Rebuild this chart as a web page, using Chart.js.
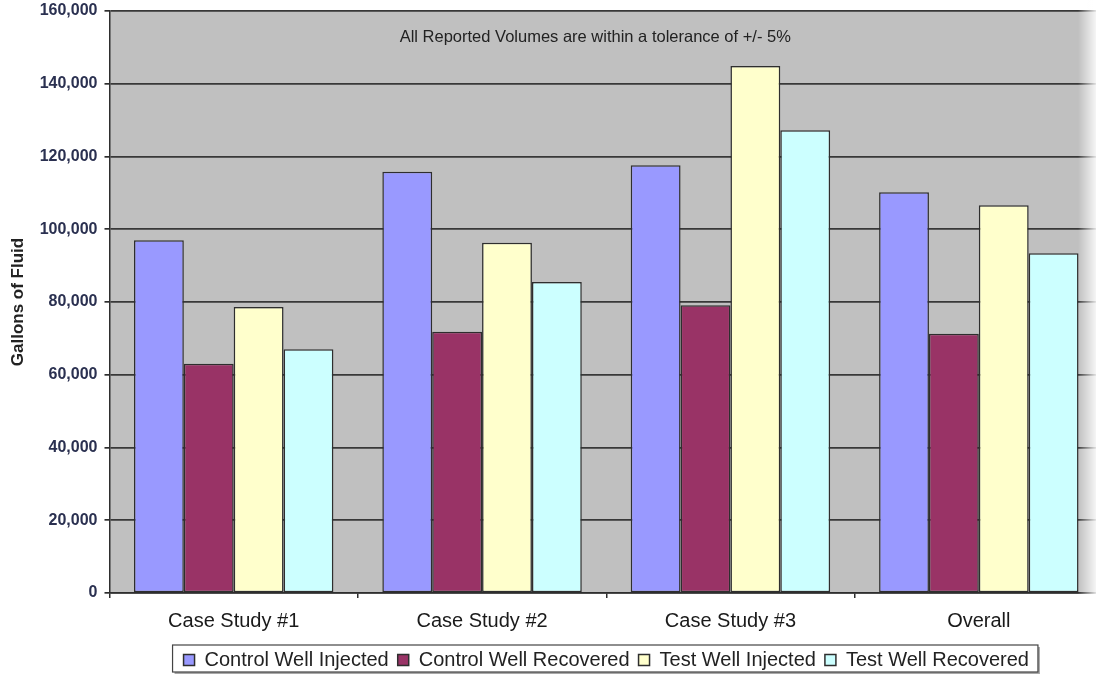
<!DOCTYPE html>
<html>
<head>
<meta charset="utf-8">
<title>Gallons of Fluid</title>
<script src="https://cdn.jsdelivr.net/npm/chart.js@4/dist/chart.umd.min.js"></script>
<style>
  html, body { margin: 0; padding: 0; background: #ffffff; overflow: hidden; }
  #wrap { position: relative; width: 1096px; height: 675px; overflow: hidden; }
  canvas { display: block; }
</style>
</head>
<body>
<div id="wrap"><canvas id="chart" width="1106" height="690"></canvas></div>
<script>
// Volumes in gallons per study
const categories = ['Case Study #1', 'Case Study #2', 'Case Study #3', 'Overall'];
const controlWellInjected  = [97000, 115800, 117600, 110200];
const controlWellRecovered = [63000, 71800, 79100, 71300];
const testWellInjected     = [78600, 96300, 144900, 106600];
const testWellRecovered    = [67000, 85500, 127200, 93400];
const yMin = 0, yMax = 160000, yStep = 20000;
const note = 'All Reported Volumes are within a tolerance of +/- 5%';

const FONT = 'Arial, "Liberation Sans", sans-serif';
const EDGE = '#2e2e2e';

// Grey plot background, note text, framed legend and soft right edge
const decorations = {
  id: 'decorations',
  beforeDraw(chart) {
    const { ctx, chartArea: a } = chart;
    ctx.save();
    ctx.fillStyle = '#c0c0c0';
    ctx.fillRect(a.left, a.top, a.right - a.left, a.bottom - a.top);
    ctx.restore();
  },
  beforeDatasetsDraw(chart) {
    const { ctx, chartArea: a } = chart;
    ctx.save();
    ctx.font = '16.5px ' + FONT;
    ctx.fillStyle = '#222';
    ctx.textAlign = 'center';
    ctx.textBaseline = 'middle';
    ctx.fillText(note, (a.left + a.right) / 2 - 11, a.top + 26);
    ctx.restore();
  },
  afterDraw(chart) {
    const { ctx } = chart;
    const hb = chart.legend.legendHitBoxes;
    if (hb && hb.length) {
      const left = Math.min(...hb.map(h => h.left)) - 11;
      const right = Math.max(...hb.map(h => h.left + h.width)) + 9;
      const cy = hb[0].top + hb[0].height / 2;
      const top = cy - 15, bottom = cy + 12;
      ctx.save();
      ctx.fillStyle = '#a8a8a8';
      ctx.fillRect(left + 2, top + 2, right - left, bottom - top);
      ctx.fillStyle = '#ffffff';
      ctx.fillRect(left, top, right - left, bottom - top);
      ctx.strokeStyle = '#444';
      ctx.lineWidth = 1.2;
      ctx.strokeRect(left, top, right - left, bottom - top);
      ctx.restore();
      // legend content goes back on top of its frame
      chart.legend.draw();
    }
    ctx.save();
    const g = ctx.createLinearGradient(1078, 0, 1096, 0);
    g.addColorStop(0, 'rgba(255,255,255,0)');
    g.addColorStop(1, 'rgba(255,255,255,0.85)');
    ctx.fillStyle = g;
    ctx.fillRect(1078, 0, 30, chart.chartArea.bottom + 2);
    ctx.restore();
  }
};

const mk = (label, data, color) => ({
  label, data,
  backgroundColor: color,
  borderColor: EDGE,
  borderWidth: 1.5,
  borderSkipped: false
});

new Chart(document.getElementById('chart'), {
  type: 'bar',
  data: {
    labels: categories,
    datasets: [
      mk('Control Well Injected', controlWellInjected, '#9999ff'),
      mk('Control Well Recovered', controlWellRecovered, '#993366'),
      mk('Test Well Injected', testWellInjected, '#ffffcc'),
      mk('Test Well Recovered', testWellRecovered, '#ccffff')
    ]
  },
  options: {
    responsive: false,
    animation: false,
    devicePixelRatio: 1,
    layout: { padding: { top: 11, left: 0, right: 3, bottom: 10 } },
    datasets: { bar: { categoryPercentage: 0.803, barPercentage: 1.0 } },
    plugins: {
      legend: {
        position: 'bottom',
        fullSize: false,
        labels: {
          font: { family: FONT, size: 20 },
          color: '#222',
          boxWidth: 11,
          boxHeight: 11,
          padding: 9
        }
      },
      tooltip: { enabled: false }
    },
    scales: {
      x: {
        afterFit(s) { s.height = 48; s.paddingLeft = 0; s.paddingRight = 0; },
        grid: {
          offset: true,
          drawOnChartArea: false,
          drawTicks: true,
          tickLength: 5,
          color: EDGE,
          lineWidth: 1.5
        },
        border: { color: EDGE, width: 1.5 },
        ticks: {
          font: { family: FONT, size: 20 },
          color: '#1a1a1a',
          padding: 11,
          autoSkip: false,
          maxRotation: 0
        }
      },
      y: {
        min: yMin, max: yMax,
        afterFit(s) { s.width = 109.5; s.paddingTop = 0; s.paddingBottom = 0; },
        grid: {
          color: '#383838',
          lineWidth: 1.7,
          tickLength: 5,
          tickColor: EDGE
        },
        border: { color: EDGE, width: 1.5 },
        ticks: {
          stepSize: yStep,
          font: { family: FONT, size: 16, weight: 'bold' },
          color: '#2a3050',
          padding: 7,
          callback: v => v.toLocaleString('en-US')
        },
        title: {
          display: true,
          text: 'Gallons of Fluid',
          font: { family: FONT, size: 17, weight: 'bold' },
          color: '#222',
          padding: { top: 8, bottom: 0 }
        }
      }
    }
  },
  plugins: [decorations]
});
</script>
</body>
</html>
